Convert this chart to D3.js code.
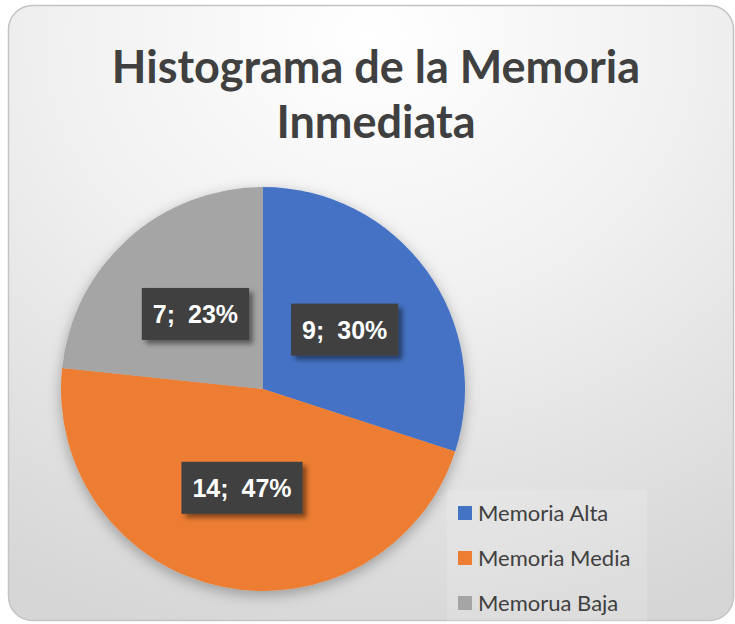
<!DOCTYPE html>
<html><head><meta charset="utf-8">
<script src="https://cdn.jsdelivr.net/npm/d3@7"></script>
<style>body{margin:0;background:#fff}svg{display:block}</style>
</head><body>
<svg id="c" width="735" height="624"></svg>
<script>
const categories = ["Memoria Alta", "Memoria Media", "Memorua Baja"];
const values = [9, 14, 7];
const percents = ["30%", "47%", "23%"];
const colors = ["#4472C4", "#ED7D31", "#A5A5A5"];
const titleLines = ["Histograma de la Memoria", "Inmediata"];

const svg = d3.select("#c");
const defs = svg.append("defs");
const bg = defs.append("radialGradient").attr("id","bg").attr("cx","50%").attr("cy","5%").attr("r","100%");
bg.append("stop").attr("offset","0%").attr("stop-color","#ffffff");
bg.append("stop").attr("offset","45%").attr("stop-color","#f0f0f0");
bg.append("stop").attr("offset","100%").attr("stop-color","#d6d6d6");
const sh = defs.append("filter").attr("id","pieShadow").attr("x","-20%").attr("y","-20%").attr("width","140%").attr("height","140%");
sh.append("feDropShadow").attr("dx",0).attr("dy",4).attr("stdDeviation",7).attr("flood-color","#000").attr("flood-opacity",0.3);
const bs = defs.append("filter").attr("id","boxShadow").attr("x","-20%").attr("y","-30%").attr("width","150%").attr("height","170%");
bs.append("feDropShadow").attr("dx",4).attr("dy",4).attr("stdDeviation",2.5).attr("flood-color","#000").attr("flood-opacity",0.45);

svg.append("rect").attr("x",8.5).attr("y",5.5).attr("width",725).attr("height",615).attr("rx",24)
  .attr("fill","url(#bg)").attr("stroke","#c4c4c4").attr("stroke-width",1.5);

const title = svg.append("text").attr("text-anchor","middle").attr("fill","#404040")
  .attr("font-family","Lato, 'Open Sans', sans-serif").attr("font-weight","bold").attr("font-size",45);
titleLines.forEach((t,i)=>title.append("tspan").attr("x",376).attr("y",83+i*55).text(t));

const cx = 263, cy = 389, r = 202;
const pie = d3.pie().sort(null).value(d=>d)(values);
const arc = d3.arc().innerRadius(0).outerRadius(r);
const g = svg.append("g").attr("transform",`translate(${cx},${cy})`);
g.append("g").attr("filter","url(#pieShadow)").selectAll("path").data(pie).join("path")
  .attr("d",arc).attr("fill",(d,i)=>colors[i]);

// legend
const lg = svg.append("g");
lg.append("rect").attr("x",447).attr("y",490).attr("width",200).attr("height",133).attr("fill","#ffffff").attr("opacity",0.15);
categories.forEach((c,i)=>{
  const y = 513 + i*45;
  lg.append("rect").attr("x",458).attr("y",y-7).attr("width",14).attr("height",14).attr("fill",colors[i]);
  lg.append("text").attr("x",478).attr("y",y+8).attr("fill","#404040")
    .attr("font-family","Lato, 'Open Sans', sans-serif").attr("font-size",22).text(c);
});

// labels
const lab = g.append("g");
pie.forEach((d,i)=>{
  const [x,y] = arc.centroid(d);
  const t = `${values[i]}; ${percents[i]}`;
  const lgp = lab.append("g").attr("transform",`translate(${x},${y})`);
  const rect = lgp.append("rect").attr("fill","#404040").attr("filter","url(#boxShadow)");
  const txt = lgp.append("text").attr("text-anchor","middle").attr("y",9).attr("fill","#fff")
    .attr("font-family","'Liberation Sans', Arial, sans-serif").attr("font-weight","bold").attr("font-size",25)
    .attr("word-spacing",6).text(t);
  const w = txt.node().getComputedTextLength() + 22;
  rect.attr("x",-w/2).attr("y",-26).attr("width",w).attr("height",52);
});
</script>
</body></html>
